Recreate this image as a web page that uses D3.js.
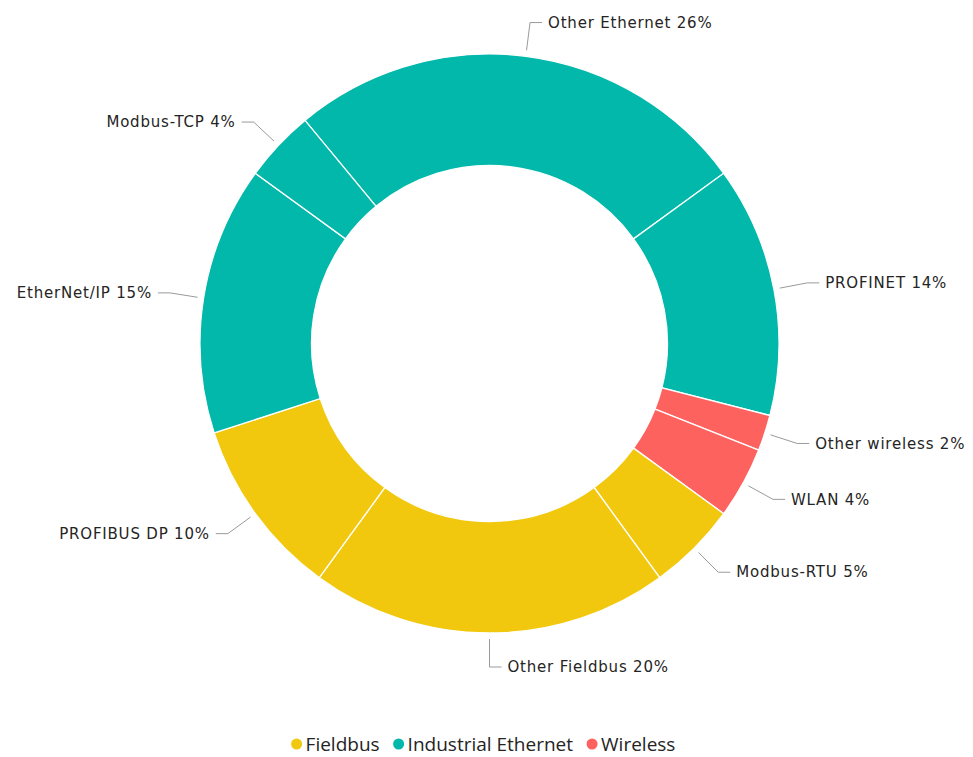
<!DOCTYPE html>
<html>
<head>
<meta charset="utf-8">
<script src="https://cdn.jsdelivr.net/npm/d3@7"></script>
<style>
  html, body { margin: 0; padding: 0; background: #fff; }
  svg { display: block; }
</style>
</head>
<body>
<svg id="chart" width="973" height="757"></svg>
<script>
const labels = ["Other Ethernet", "PROFINET", "Other wireless", "WLAN", "Modbus-RTU", "Other Fieldbus", "PROFIBUS DP", "EtherNet/IP", "Modbus-TCP"];
const values = [26, 14, 2, 4, 5, 20, 10, 15, 4];
const groups = ["Industrial Ethernet", "Industrial Ethernet", "Wireless", "Wireless", "Fieldbus", "Fieldbus", "Fieldbus", "Industrial Ethernet", "Industrial Ethernet"];
const legendNames = ["Fieldbus", "Industrial Ethernet", "Wireless"];
const legendColors = ["#F2C80F", "#01B8AA", "#FD625E"];

const data = labels.map((l, i) => ({label: l, value: values[i], group: groups[i]}));

const svg = d3.select("#chart");
const cx = 489.5, cy = 343.5;
const outerR = 289.5, innerR = 178;

const color = d3.scaleOrdinal().domain(legendNames).range(legendColors);

const startA = -0.11 * 2 * Math.PI;
const pie = d3.pie().value(d => d.value).sort(null)
  .startAngle(startA).endAngle(startA + 2 * Math.PI);
const arcs = pie(data);
const arc = d3.arc().innerRadius(innerR).outerRadius(outerR);

const g = svg.append("g").attr("transform", `translate(${cx},${cy})`);

g.selectAll("path.slice").data(arcs).enter().append("path")
  .attr("class", "slice")
  .attr("d", arc)
  .attr("fill", d => color(d.data.group))
  .attr("stroke", "#fff")
  .attr("stroke-width", 1.3);

// leader lines and labels
const r1 = outerR + 6, r2 = outerR + 34, hLen = 12, gap = 6;
arcs.forEach(d => {
  const mid = (d.startAngle + d.endAngle) / 2;
  const sx = Math.sin(mid), sy = -Math.cos(mid);
  const p1 = [r1 * sx, r1 * sy];
  const p2 = [r2 * sx, r2 * sy];
  const right = sx >= -0.01;
  const p3 = [p2[0] + (right ? hLen : -hLen), p2[1]];
  g.append("polyline")
    .attr("points", [p1, p2, p3].map(p => p.join(",")).join(" "))
    .attr("fill", "none")
    .attr("stroke", "#9a9a9a")
    .attr("stroke-width", 1);
  g.append("text")
    .attr("x", p3[0] + (right ? gap : -gap))
    .attr("y", p3[1])
    .attr("dy", "0.35em")
    .attr("text-anchor", right ? "start" : "end")
    .attr("font-family", "DejaVu Sans, sans-serif")
    .attr("font-size", 15)
    .attr("letter-spacing", 0.8)
    .attr("fill", "#252423")
    .text(`${d.data.label} ${d.data.value}%`);
});

// legend
const legend = svg.append("g");
const items = legend.selectAll("g.item").data(legendNames).enter().append("g").attr("class", "item");
items.append("circle").attr("r", 5.5).attr("fill", d => color(d));
items.append("text")
  .attr("x", 9)
  .attr("dy", "0.35em")
  .attr("font-family", "Open Sans, sans-serif")
  .attr("font-size", 19)
  .attr("fill", "#252423")
  .text(d => d);
const widths = [];
items.each(function() {
  widths.push(d3.select(this).select("text").node().getComputedTextLength());
});
const itemGap = 8;
const total = widths.reduce((a, w) => a + 11 + 9 + w + itemGap, 0) - itemGap;
let xOff = 486 - total / 2 + 5.5;
items.each(function(d, i) {
  d3.select(this).attr("transform", `translate(${xOff},744)`);
  xOff += widths[i] + 9 + itemGap + 11;
});
</script>
</body>
</html>
